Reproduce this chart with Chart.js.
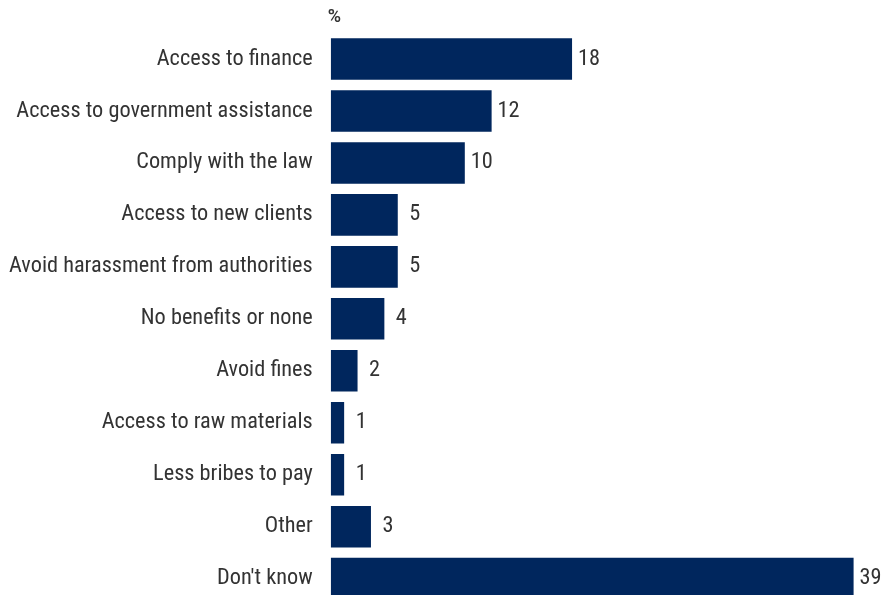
<!DOCTYPE html>
<html>
<head>
<meta charset="utf-8">
<script src="https://cdn.jsdelivr.net/npm/chart.js@4/dist/chart.umd.min.js"></script>
<style>
  html, body { margin: 0; padding: 0; background: #ffffff; overflow: hidden; }
  canvas { display: block; }
</style>
</head>
<body>
<canvas id="chart" width="886" height="636"></canvas>
<script>
// Reported benefits of formalisation (share of respondents, %)
const categories = [
  'Access to finance',
  'Access to government assistance',
  'Comply with the law',
  'Access to new clients',
  'Avoid harassment from authorities',
  'No benefits or none',
  'Avoid fines',
  'Access to raw materials',
  'Less bribes to pay',
  'Other',
  "Don't know"
];
const shares = [18, 12, 10, 5, 5, 4, 2, 1, 1, 3, 39];
const unitLabel = '%';

const FONT = '"Roboto Condensed", Roboto, sans-serif';
const BAR_COLOR = '#00265d';
const TEXT_COLOR = '#333333';

// Writes each value centred a little past the end of its bar, plus the unit above the axis.
const valueLabels = {
  id: 'valueLabels',
  afterDatasetsDraw(chart) {
    const { ctx, chartArea } = chart;
    const meta = chart.getDatasetMeta(0);
    ctx.save();
    ctx.fillStyle = TEXT_COLOR;
    ctx.font = '22.3px ' + FONT;
    ctx.textAlign = 'center';
    ctx.textBaseline = 'middle';
    meta.data.forEach((bar, i) => {
      ctx.fillText(String(shares[i]), bar.x + 17, bar.y);
    });
    ctx.textAlign = 'left';
    ctx.font = '600 18px Roboto, sans-serif';
    ctx.fillText(unitLabel, chartArea.left - 3, 17);
    ctx.restore();
  }
};

new Chart(document.getElementById('chart'), {
  type: 'bar',
  data: {
    labels: categories,
    datasets: [{
      data: shares,
      backgroundColor: BAR_COLOR,
      borderWidth: 0,
      barPercentage: 0.8,
      categoryPercentage: 1.0
    }]
  },
  options: {
    indexAxis: 'y',
    responsive: false,
    animation: false,
    layout: { padding: { top: 33, right: 19, bottom: 5, left: -9 } },
    plugins: {
      legend: { display: false },
      tooltip: { enabled: false }
    },
    scales: {
      x: {
        display: false,
        min: 0,
        max: 40
      },
      y: {
        grid: { display: false, drawTicks: false },
        border: { display: false },
        ticks: {
          color: TEXT_COLOR,
          font: { family: FONT, size: 22.3 },
          padding: 18
        }
      }
    }
  },
  plugins: [valueLabels]
});
</script>
</body>
</html>
